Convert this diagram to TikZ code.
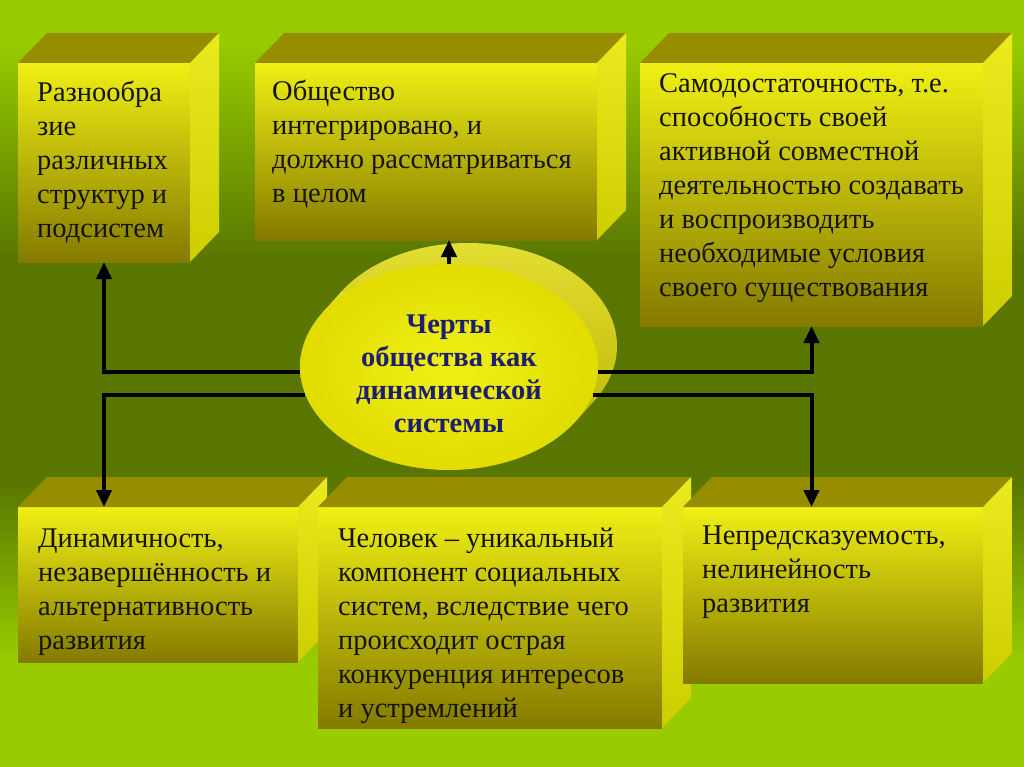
\documentclass[tikz,border=0pt]{standalone}
\usepackage{fontspec}
\setmainfont{Liberation Serif}
\usetikzlibrary{arrows.meta,shapes.geometric}

\definecolor{lime}{RGB}{153,204,0}
\definecolor{moss}{RGB}{88,118,0}
\definecolor{lemon}{RGB}{240,240,20}
\definecolor{mustard}{RGB}{226,220,0}
\definecolor{olivebox}{RGB}{132,122,0}
\definecolor{lidtop}{RGB}{150,142,0}
\definecolor{flank}{RGB}{234,234,30}
\definecolor{flankdark}{RGB}{205,205,0}
\definecolor{ink}{RGB}{20,20,0}
\definecolor{navy}{RGB}{30,30,112}
\definecolor{rimlight}{RGB}{226,222,50}
\definecolor{rimdark}{RGB}{190,180,0}

\tikzset{
  slab/.style={rectangle, inner sep=0pt, outer sep=0pt, anchor=north west,
    top color=lemon, middle color=mustard, bottom color=olivebox},
  lid/.style={fill=lidtop},
  flankface/.style={top color=flank, bottom color=flankdark},
  note/.style={anchor=north west, inner sep=0pt, align=left, text=ink,
    font=\fontsize{28.5}{34}\selectfont},
  core/.style={ellipse, inner sep=0pt, minimum width=298pt, minimum height=206pt,
    inner color=lemon, outer color=mustard},
  corelabel/.style={align=center, inner sep=0pt, text=navy,
    font=\bfseries\fontsize{28.5}{33}\selectfont},
  link/.style={line width=4pt, -{Triangle[length=17pt,width=15pt]}},
}

\begin{document}
\begin{tikzpicture}[x=1pt,y=-1pt]
\useasboundingbox (0,0) rectangle (1024,767);
% background bands
\fill[lime] (0,0) rectangle (1024,40.5);
\fill[top color=lime, bottom color=moss] (0,40) rectangle (1024,260);
\fill[moss] (0,259.5) rectangle (1024,480.5);
\fill[top color=moss, bottom color=lime] (0,480) rectangle (1024,660);
\fill[lime] (0,659.5) rectangle (1024,767);

% the six blocks, front face first, then lid and flank
\def\dx{29}
\def\dy{30}
\foreach \n/\x/\y/\w/\h in {b1/18/63/172/199, b2/255/63/342/177, b3/640/63/343/263,
    b4/18/507/280/155, b5/318/507/344/221, b6/683/507/300/176}{
  \node[slab, minimum width=\w pt, minimum height=\h pt] (\n) at (\x,\y) {};
  \fill[lid] (\n.north west) -- ++(\dx,-\dy) -- ([shift={(\dx,-\dy)}]\n.north east) -- (\n.north east) -- cycle;
  \shade[flankface] (\n.north east) -- ++(\dx,-\dy) -- ([shift={(\dx,-\dy)}]\n.south east) -- (\n.south east) -- cycle;
}

\node[note] (t1) at ([shift={(19,17.5)}]b1.north west) {Разнообра\\зие\\различных\\структур и\\подсистем};
\node[note] (t2) at ([shift={(17,16.5)}]b2.north west) {Общество\\интегрировано, и\\должно рассматриваться\\в целом};
\node[note] (t3) at ([shift={(19,10.5)}]b3.north west) {Самодостаточность, т.е.\\способность своей\\активной совместной\\деятельностью создавать\\и воспроизводить\\необходимые условия\\своего существования};
\node[note] (t4) at ([shift={(20,21.5)}]b4.north west) {Динамичность,\\незавершённость и\\альтернативность\\развития};
\node[note] (t5) at ([shift={(20,20.5)}]b5.north west) {Человек -- уникальный\\компонент социальных\\систем, вследствие чего\\происходит острая\\конкуренция интересов\\и устремлений};
\node[note] (t6) at ([shift={(19,18.5)}]b6.north west) {Непредсказуемость,\\нелинейность\\развития};

% the disc in the middle
\coordinate (mid) at (449,367);
\shade[top color=rimlight, bottom color=rimdark] ([shift={(19,-21)}]mid) ellipse [x radius=149, y radius=103];
\shade[top color=rimlight, bottom color=rimdark] ([shift={(-126.4,-54.6)}]mid) -- ([shift={(-107.4,-75.6)}]mid)
  -- ([shift={(145.4,33.6)}]mid) -- ([shift={(126.4,54.6)}]mid) -- cycle;
\node[core] (core) at (mid) {};
\node[corelabel] (title) at ([shift={(0,7)}]core.center) {Черты\\общества как\\динамической\\системы};

\draw[link] (core.182) -| (b1.south);
\draw[link] (core.191) -| (b1.south |- b4.north);
\draw[link] (core.358) -| (b3.south);
\draw[link] (core.349) -| (b3.south |- b6.north);
\draw[link] (core.north) -- (core.north |- b2.south);
\end{tikzpicture}
\end{document}
